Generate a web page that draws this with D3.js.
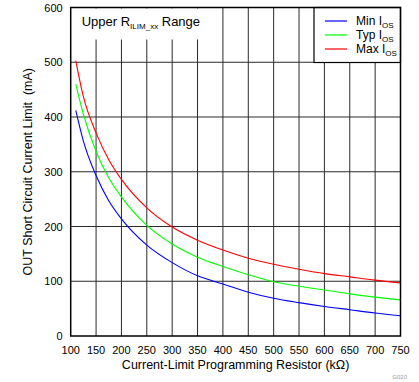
<!DOCTYPE html>
<html>
<head>
<meta charset="utf-8">
<script src="https://cdn.jsdelivr.net/npm/d3@7"></script>
<style>
  body { margin: 0; background: #fff; }
  svg text { font-family: 'Liberation Sans', Arial, sans-serif; fill: #000; }
</style>
</head>
<body>
<div id="chart"></div>
<script>
// ── Short circuit current limit vs programming resistor ─────
// Values.

const resistor = [110, 125, 150, 175, 200, 250, 300, 350, 400, 450, 500, 550, 600, 650, 700, 750];
const minIos = [412, 356, 293, 247, 214, 166, 134, 110, 95, 80, 69, 61, 54, 48, 42, 37];
const typIos = [460, 405, 337, 289, 254, 202, 168, 144, 127, 112, 99, 91, 84, 77, 71, 66];
const maxIos = [503, 437, 371, 322, 286, 234, 199, 175, 157, 142, 131, 122, 114, 108, 102, 97];

const xTicks = [100, 150, 200, 250, 300, 350, 400, 450, 500, 550, 600, 650, 700, 750];
const yTicks = [0, 100, 200, 300, 400, 500, 600];

const series = [
    { name: 'Min', values: minIos, color: '#0000ff' },
    { name: 'Typ', values: typIos, color: '#00ff00' },
    { name: 'Max', values: maxIos, color: '#ff0000' }
];

const width = 419, height = 382;
const margin = { top: 7.5, right: 18.5, bottom: 46, left: 70.7 };
const innerW = width - margin.left - margin.right;
const innerH = height - margin.top - margin.bottom;

const svg = d3.select('#chart')
    .append('svg')
    .attr('width', width)
    .attr('height', height);

const g = svg.append('g')
    .attr('transform', `translate(${margin.left},${margin.top})`);

const x = d3.scaleLinear().domain([100, 750]).range([0, innerW]);
const y = d3.scaleLinear().domain([0, 600]).range([innerH, 0]);

// Grid
g.append('g')
    .selectAll('line')
    .data(xTicks.slice(1, -1))
    .join('line')
    .attr('x1', d => x(d)).attr('x2', d => x(d))
    .attr('y1', 0).attr('y2', innerH)
    .attr('stroke', '#2a2a2a')
    .attr('stroke-width', 1);

g.append('g')
    .selectAll('line')
    .data(yTicks.slice(1, -1))
    .join('line')
    .attr('x1', 0).attr('x2', innerW)
    .attr('y1', d => y(d)).attr('y2', d => y(d))
    .attr('stroke', '#2a2a2a')
    .attr('stroke-width', 1);

// Curves
const line = d3.line()
    .x((d, i) => x(resistor[i]))
    .y(d => y(d))
    .curve(d3.curveMonotoneX);

g.append('g')
    .selectAll('path')
    .data(series)
    .join('path')
    .attr('fill', 'none')
    .attr('stroke', d => d.color)
    .attr('stroke-width', 1.1)
    .attr('d', d => line(d.values));

// Annotation box (covers grid lines)
g.append('rect')
    .attr('x', 1).attr('y', 1)
    .attr('width', x(390) - 1).attr('height', 31)
    .attr('fill', '#fff');

const note = g.append('text')
    .attr('x', 11)
    .attr('y', 18.5)
    .attr('font-size', 13);
note.append('tspan').text('Upper R');
note.append('tspan').attr('font-size', 8).attr('dy', 3).text('ILIM_xx');
note.append('tspan').attr('dy', -3).text(' Range');

// Legend
const legX = x(579.5);
const leg = g.append('g').attr('transform', `translate(${legX},0)`);
leg.append('rect')
    .attr('x', 0).attr('y', 0)
    .attr('width', innerW - legX).attr('height', 55)
    .attr('fill', '#fff')
    .attr('stroke', '#000')
    .attr('stroke-width', 1.2);

const legItem = leg.selectAll('g.item')
    .data(series)
    .join('g')
    .attr('class', 'item')
    .attr('transform', (d, i) => `translate(0,${13.5 + i * 14})`);

legItem.append('line')
    .attr('x1', 11).attr('x2', 33)
    .attr('stroke', d => d.color)
    .attr('stroke-width', 1.2);

const legText = legItem.append('text')
    .attr('x', 42)
    .attr('y', 4)
    .attr('font-size', 12);
legText.append('tspan').text(d => d.name + ' I');
legText.append('tspan').attr('font-size', 8).attr('dy', 3).text('OS');

// Frame
g.append('rect')
    .attr('width', innerW).attr('height', innerH)
    .attr('fill', 'none')
    .attr('stroke', '#000')
    .attr('stroke-width', 1.5);

// Tick labels
g.append('g')
    .selectAll('text')
    .data(yTicks)
    .join('text')
    .attr('x', -8)
    .attr('y', d => y(d) + 4)
    .attr('text-anchor', 'end')
    .attr('font-size', 11)
    .text(d => d);

g.append('g')
    .selectAll('text')
    .data(xTicks)
    .join('text')
    .attr('x', d => x(d))
    .attr('y', innerH + 17.5)
    .attr('text-anchor', 'middle')
    .attr('font-size', 11)
    .text(d => d);

// Axis titles
svg.append('text')
    .attr('x', margin.left + innerW / 2)
    .attr('y', 369)
    .attr('text-anchor', 'middle')
    .attr('font-size', 12.5)
    .text('Current-Limit Programming Resistor (k\u03A9)');

svg.append('text')
    .attr('transform', `translate(32,${margin.top + innerH / 2}) rotate(-90)`)
    .attr('text-anchor', 'middle')
    .attr('font-size', 12.5)
    .text('OUT Short Circuit Current Limit\u00A0 (mA)');

svg.append('text')
    .attr('x', 407)
    .attr('y', 379)
    .attr('text-anchor', 'end')
    .attr('font-size', 6)
    .style('fill', '#999')
    .text('G020');
</script>
</body>
</html>
